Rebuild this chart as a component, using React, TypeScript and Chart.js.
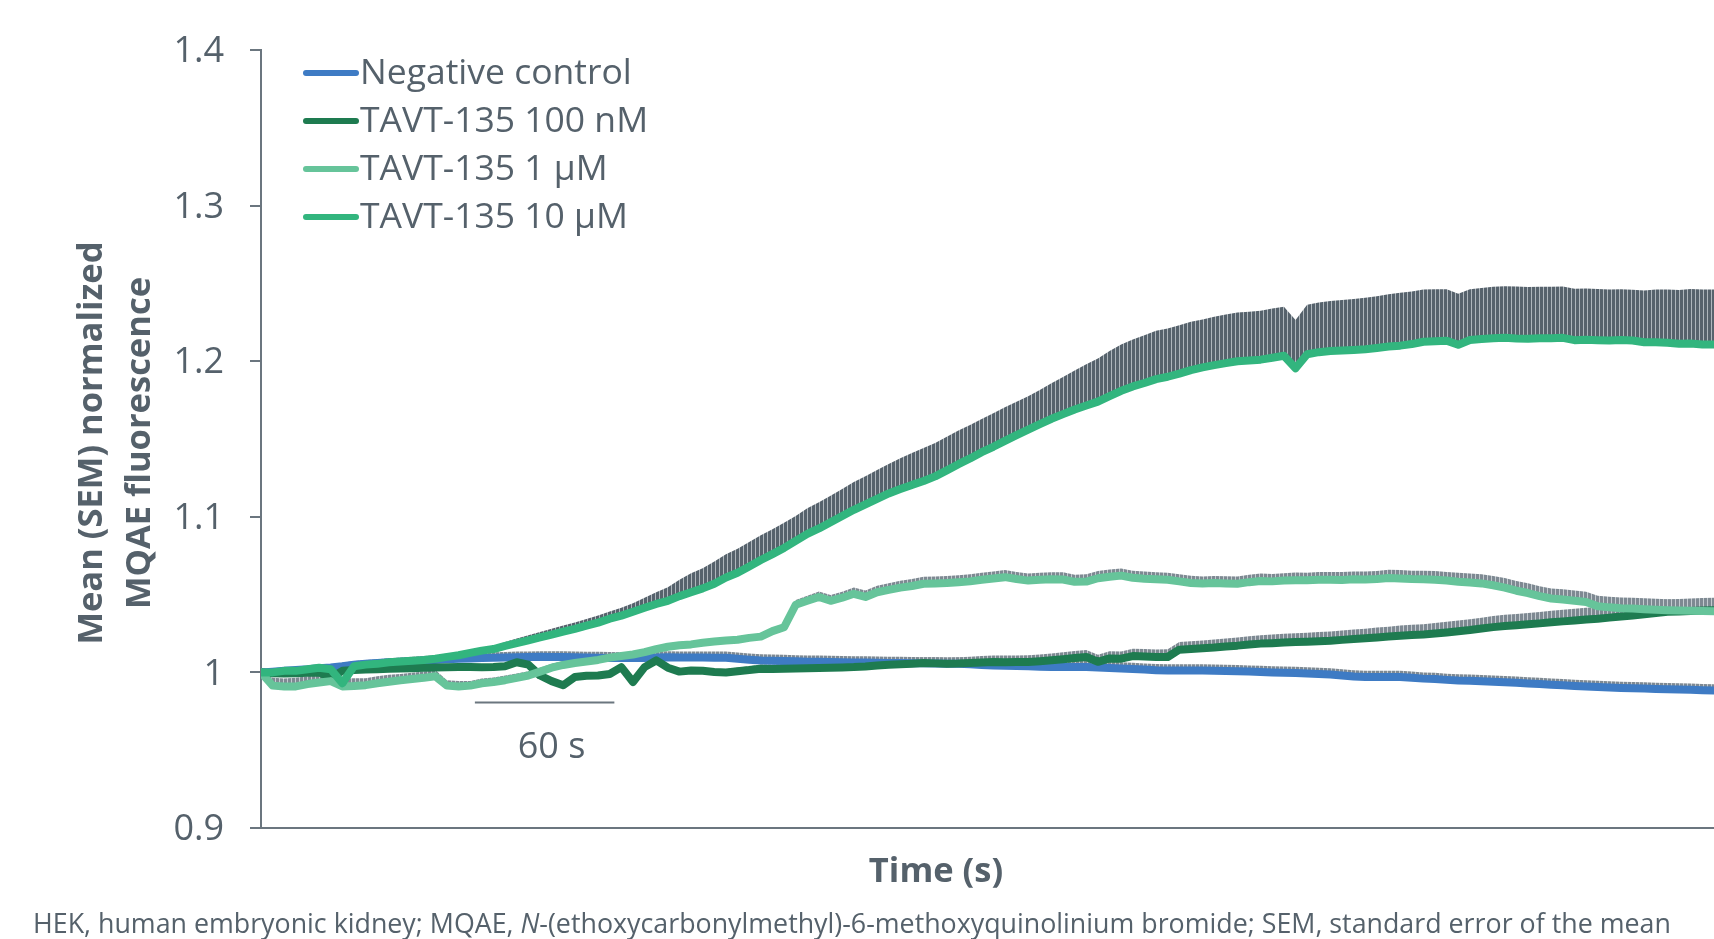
import React, { useEffect, useRef } from "react";
import { Chart, registerables } from "chart.js";

Chart.register(...registerables);

// ---------- data ----------
const TIME_S = [
  0, 5, 10, 15, 20, 25, 30, 35, 40, 45,
  50, 55, 60, 65, 70, 75, 80, 85, 90, 95,
  100, 105, 110, 115, 120, 125, 130, 135, 140, 145,
  150, 155, 160, 165, 170, 175, 180, 185, 190, 195,
  200, 205, 210, 215, 220, 225, 230, 235, 240, 245,
  250, 255, 260, 265, 270, 275, 280, 285, 290, 295,
  300, 305, 310, 315, 320, 325, 330, 335, 340, 345,
  350, 355, 360, 365, 370, 375, 380, 385, 390, 395,
  400, 405, 410, 415, 420, 425, 430, 435, 440, 445,
  450, 455, 460, 465, 470, 475, 480, 485, 490, 495,
  500, 505, 510, 515, 520, 525, 530, 535, 540, 545,
  550, 555, 560, 565, 570, 575, 580, 585, 590, 595,
  600, 605, 610, 615, 620, 625,
];

const NEG_CONTROL = [
  1.000, 1.0005, 1.001, 1.0015, 1.002, 1.0027, 1.0032, 1.004, 1.005, 1.0056,
  1.006, 1.0065, 1.0069, 1.0072, 1.0076, 1.008, 1.0084, 1.0088, 1.009, 1.0092,
  1.0094, 1.0096, 1.0098, 1.0099, 1.010, 1.0099, 1.0099, 1.0097, 1.0095, 1.0094,
  1.0093, 1.0092, 1.0092, 1.0093, 1.0095, 1.0097, 1.0096, 1.0095, 1.0095, 1.0094,
  1.0094, 1.0088, 1.0082, 1.0077, 1.0075, 1.0073, 1.0071, 1.0069, 1.0068, 1.0067,
  1.0065, 1.0064, 1.0063, 1.0062, 1.006, 1.006, 1.0059, 1.0058, 1.0057, 1.0056,
  1.0056, 1.0052, 1.0048, 1.0045, 1.0043, 1.0041, 1.0039, 1.0037, 1.0035, 1.0034,
  1.0034, 1.0034, 1.0032, 1.0028, 1.0025, 1.0022, 1.0018, 1.0014, 1.0013, 1.0013,
  1.0013, 1.0013, 1.0011, 1.0009, 1.0007, 1.0005, 1.0002, 1.000, 0.9998, 0.9996,
  0.9993, 0.999, 0.9986, 0.998, 0.9974, 0.997, 0.997, 0.997, 0.997, 0.9965,
  0.996, 0.9957, 0.9952, 0.9948, 0.9946, 0.9943, 0.994, 0.9937, 0.9933, 0.9929,
  0.9925, 0.9921, 0.9917, 0.9913, 0.9909, 0.9906, 0.9903, 0.99, 0.9898, 0.9896,
  0.9894, 0.9892, 0.989, 0.9888, 0.9886, 0.9884,
];
const NEG_CONTROL_SEM = [
  0.0015, 0.0016, 0.0017, 0.0018, 0.0019, 0.002, 0.0021, 0.0022, 0.0023, 0.0024,
  0.0025, 0.0026, 0.0027, 0.0028, 0.0029, 0.003, 0.0031, 0.0032, 0.0033, 0.0034,
  0.0035, 0.0035, 0.0036, 0.0036, 0.0036, 0.0037, 0.0037, 0.0037, 0.0038, 0.0038,
  0.0038, 0.0038, 0.0039, 0.0039, 0.0039, 0.0039, 0.0039, 0.004, 0.004, 0.004,
  0.004, 0.004, 0.004, 0.004, 0.004, 0.004, 0.004, 0.004, 0.004, 0.004,
  0.004, 0.004, 0.004, 0.004, 0.004, 0.004, 0.004, 0.004, 0.004, 0.004,
  0.004, 0.004, 0.004, 0.004, 0.004, 0.004, 0.004, 0.004, 0.004, 0.004,
  0.004, 0.004, 0.004, 0.004, 0.004, 0.004, 0.004, 0.004, 0.004, 0.004,
  0.004, 0.004, 0.004, 0.004, 0.004, 0.004, 0.004, 0.004, 0.004, 0.004,
  0.004, 0.004, 0.004, 0.004, 0.004, 0.004, 0.004, 0.004, 0.004, 0.004,
  0.004, 0.004, 0.004, 0.004, 0.004, 0.004, 0.004, 0.004, 0.004, 0.004,
  0.004, 0.004, 0.004, 0.004, 0.004, 0.004, 0.004, 0.004, 0.004, 0.004,
  0.004, 0.004, 0.004, 0.004, 0.004, 0.004,
];

const TAVT_100NM = [
  1.000, 0.9995, 0.9993, 0.9994, 0.9997, 1.000, 0.9965, 1.001, 1.0015, 1.0018,
  1.002, 1.0023, 1.0025, 1.0027, 1.003, 1.0031, 1.0033, 1.0034, 1.0034, 1.0033,
  1.0034, 1.004, 1.0065, 1.005, 0.998, 0.9944, 0.9918, 0.997, 0.9978, 0.998,
  0.999, 1.0034, 0.9938, 1.0034, 1.0077, 1.003, 1.0005, 1.0012, 1.001, 1.0003,
  1.000, 1.0008, 1.0015, 1.0024, 1.0022, 1.0024, 1.0025, 1.0027, 1.0029, 1.003,
  1.0032, 1.0034, 1.0038, 1.0044, 1.0049, 1.0052, 1.0056, 1.006, 1.0058, 1.0056,
  1.0057, 1.006, 1.0064, 1.0067, 1.0066, 1.0067, 1.0067, 1.0072, 1.0078, 1.0085,
  1.0092, 1.0099, 1.0068, 1.009, 1.0088, 1.0105, 1.0102, 1.0099, 1.0099, 1.0146,
  1.015, 1.0155, 1.016, 1.0167, 1.0172, 1.0179, 1.0185, 1.0188, 1.0192, 1.0195,
  1.0197, 1.020, 1.0203, 1.0209, 1.0214, 1.0219, 1.0225, 1.023, 1.0236, 1.0241,
  1.0244, 1.025, 1.0257, 1.0265, 1.0272, 1.0282, 1.0291, 1.0298, 1.0303, 1.0309,
  1.0315, 1.0322, 1.0328, 1.0334, 1.034, 1.0345, 1.0352, 1.0359, 1.0366, 1.0374,
  1.0381, 1.0389, 1.0392, 1.0395, 1.0398, 1.04,
];
const TAVT_100NM_SEM = [
  0.001, 0.001, 0.001, 0.001, 0.001, 0.001, 0.001, 0.001, 0.001, 0.001,
  0.0015, 0.0015, 0.0015, 0.0015, 0.0015, 0.0015, 0.0015, 0.0015, 0.0015, 0.0015,
  0.002, 0.002, 0.002, 0.002, 0.002, 0.002, 0.002, 0.002, 0.002, 0.002,
  0.002, 0.002, 0.002, 0.002, 0.002, 0.002, 0.002, 0.002, 0.002, 0.002,
  0.0022, 0.0023, 0.0025, 0.0026, 0.0028, 0.003, 0.0031, 0.0032, 0.0033, 0.0034,
  0.0035, 0.0035, 0.0036, 0.0036, 0.0037, 0.0037, 0.0038, 0.0038, 0.0039, 0.0039,
  0.004, 0.004, 0.0041, 0.0041, 0.0042, 0.0042, 0.0043, 0.0043, 0.0044, 0.0044,
  0.0045, 0.0045, 0.0046, 0.0046, 0.0047, 0.0047, 0.0048, 0.0048, 0.0049, 0.0049,
  0.005, 0.005, 0.0051, 0.0051, 0.0052, 0.0053, 0.0054, 0.0055, 0.0056, 0.0057,
  0.0058, 0.0059, 0.006, 0.006, 0.0061, 0.0062, 0.0063, 0.0064, 0.0065, 0.0066,
  0.0066, 0.0067, 0.0068, 0.0069, 0.007, 0.007, 0.0071, 0.0072, 0.0072, 0.0073,
  0.0073, 0.0074, 0.0074, 0.0075, 0.0075, 0.0076, 0.0076, 0.0077, 0.0077, 0.0078,
  0.0078, 0.0079, 0.0079, 0.008, 0.008, 0.008,
];

const TAVT_1UM = [
  1.000, 0.9915, 0.991, 0.991, 0.9925, 0.9935, 0.9944, 0.991, 0.9912, 0.9918,
  0.993, 0.994, 0.995, 0.9958, 0.9965, 0.9975, 0.9915, 0.991, 0.9915, 0.993,
  0.9938, 0.995, 0.9965, 0.998, 1.0005, 1.003, 1.0048, 1.006, 1.007, 1.008,
  1.0095, 1.0105, 1.0115, 1.013, 1.015, 1.0165, 1.0175, 1.018, 1.019, 1.0198,
  1.0205, 1.021, 1.0222, 1.023, 1.0265, 1.029, 1.0435, 1.046, 1.0485, 1.046,
  1.048, 1.0505, 1.0485, 1.0515, 1.053, 1.0545, 1.0555, 1.057, 1.0572, 1.0575,
  1.058, 1.0585, 1.0595, 1.0604, 1.0612, 1.060, 1.059, 1.0595, 1.0598, 1.0597,
  1.0582, 1.0584, 1.0605, 1.0615, 1.0622, 1.0608, 1.0602, 1.0598, 1.0595, 1.0585,
  1.0575, 1.0571, 1.0574, 1.0572, 1.057, 1.058, 1.0588, 1.0585, 1.059, 1.0593,
  1.0592, 1.0595, 1.0596, 1.0594, 1.0598, 1.0597, 1.060, 1.0606, 1.0604, 1.060,
  1.0598, 1.0595, 1.059, 1.0583, 1.0578, 1.0572, 1.056, 1.0545, 1.0525, 1.051,
  1.049, 1.0475, 1.0468, 1.046, 1.0452, 1.0425, 1.0418, 1.0413, 1.041, 1.0406,
  1.0403, 1.04, 1.0398, 1.0396, 1.0394, 1.0393,
];
const TAVT_1UM_SEM = [
  0.002, 0.005, 0.005, 0.0055, 0.005, 0.005, 0.0045, 0.005, 0.005, 0.0045,
  0.0045, 0.0045, 0.004, 0.004, 0.004, 0.004, 0.0035, 0.0035, 0.003, 0.003,
  0.003, 0.003, 0.0028, 0.0028, 0.0025, 0.0025, 0.0025, 0.0022, 0.0022, 0.002,
  0.002, 0.002, 0.002, 0.002, 0.002, 0.002, 0.002, 0.002, 0.002, 0.002,
  0.002, 0.002, 0.002, 0.002, 0.002, 0.0025, 0.003, 0.0033, 0.0035, 0.0037,
  0.0039, 0.004, 0.0041, 0.0042, 0.0043, 0.0044, 0.0045, 0.0045, 0.0045, 0.0045,
  0.0045, 0.0045, 0.0045, 0.0045, 0.0046, 0.0046, 0.0046, 0.0046, 0.0046, 0.0046,
  0.0046, 0.0046, 0.0046, 0.0046, 0.0046, 0.0046, 0.0046, 0.0046, 0.0046, 0.0046,
  0.0046, 0.0046, 0.0046, 0.0046, 0.0046, 0.0047, 0.0047, 0.0048, 0.0048, 0.0049,
  0.0049, 0.005, 0.005, 0.0051, 0.0051, 0.0052, 0.0052, 0.0053, 0.0054, 0.0054,
  0.0055, 0.0056, 0.0056, 0.0057, 0.0058, 0.0059, 0.006, 0.0061, 0.0062, 0.0063,
  0.0064, 0.0065, 0.0066, 0.0066, 0.0067, 0.0068, 0.0068, 0.0069, 0.0069, 0.007,
  0.007, 0.007, 0.0071, 0.0071, 0.0071, 0.0071,
];

const TAVT_10UM = [
  1.000, 1.000, 1.001, 1.001, 1.002, 1.003, 1.002, 0.993, 1.004, 1.005,
  1.0055, 1.0065, 1.007, 1.0075, 1.008, 1.0088, 1.010, 1.011, 1.0125, 1.014,
  1.015, 1.017, 1.0188, 1.0206, 1.0225, 1.0243, 1.0262, 1.028, 1.030, 1.032,
  1.0345, 1.0365, 1.039, 1.0415, 1.044, 1.046, 1.049, 1.0515, 1.054, 1.057,
  1.061, 1.064, 1.068, 1.0722, 1.076, 1.080, 1.0845, 1.089, 1.0925, 1.0965,
  1.1005, 1.1045, 1.108, 1.1115, 1.115, 1.1178, 1.1205, 1.123, 1.126, 1.1298,
  1.1338, 1.1375, 1.1415, 1.145, 1.1488, 1.1525, 1.156, 1.1595, 1.163, 1.166,
  1.169, 1.1715, 1.174, 1.1775, 1.181, 1.1838, 1.186, 1.1885, 1.190, 1.192,
  1.1943, 1.196, 1.1975, 1.1988, 1.200, 1.2005, 1.201, 1.2022, 1.2035, 1.1955,
  1.2045, 1.2058, 1.2065, 1.2068, 1.2072, 1.2077, 1.2085, 1.2094, 1.210, 1.211,
  1.2125, 1.2128, 1.2132, 1.2105, 1.2136, 1.2142, 1.2148, 1.215, 1.2146, 1.2144,
  1.2147, 1.2148, 1.215, 1.2135, 1.2138, 1.2135, 1.2133, 1.2136, 1.2133, 1.2122,
  1.2122, 1.2118, 1.2112, 1.2114, 1.2108, 1.2107,
];
const TAVT_10UM_SEM = [
  0.003, 0.001, 0.001, 0.001, 0.001, 0.001, 0.001, 0.001, 0.001, 0.0012,
  0.0012, 0.0012, 0.0012, 0.0015, 0.0015, 0.0015, 0.0015, 0.0018, 0.0018, 0.0018,
  0.002, 0.0025, 0.003, 0.0033, 0.0035, 0.0038, 0.004, 0.0041, 0.0043, 0.0045,
  0.0047, 0.005, 0.0055, 0.0065, 0.0075, 0.0088, 0.0105, 0.0122, 0.013, 0.0142,
  0.015, 0.0155, 0.0158, 0.016, 0.016, 0.0161, 0.016, 0.0165, 0.0168, 0.017,
  0.0173, 0.0178, 0.018, 0.0185, 0.019, 0.0198, 0.0205, 0.0212, 0.0215, 0.0216,
  0.0216, 0.0215, 0.0214, 0.0215, 0.0216, 0.0214, 0.0214, 0.022, 0.0228, 0.0238,
  0.025, 0.0265, 0.0278, 0.029, 0.0298, 0.0302, 0.0306, 0.031, 0.031, 0.0311,
  0.031, 0.0308, 0.031, 0.0312, 0.0313, 0.0312, 0.0314, 0.0316, 0.0315, 0.031,
  0.0318, 0.032, 0.0322, 0.0325, 0.0328, 0.033, 0.0333, 0.0336, 0.034, 0.0338,
  0.0336, 0.0334, 0.033, 0.0328, 0.0326, 0.0328, 0.033, 0.0332, 0.0334, 0.0333,
  0.0332, 0.0331, 0.033, 0.0331, 0.033, 0.0329, 0.0328, 0.0327, 0.0326, 0.0332,
  0.0338, 0.0342, 0.0346, 0.035, 0.0352, 0.0354,
];

const SERIES_LABELS = ["Negative control", "TAVT-135 100 nM", "TAVT-135 1 µM", "TAVT-135 10 µM"];
const SERIES_COLORS = ["#3E7BC4", "#1E7B50", "#66C49A", "#32B57E"];
const Y_TICKS = [0.9, 1.0, 1.1, 1.2, 1.3, 1.4];
const X_RANGE_S = [0, 625];
const SCALE_BAR_S = [92, 152];
const SCALE_BAR_LABEL = "60 s";
const Y_TITLE = ["Mean (SEM) normalized", "MQAE fluorescence"];
const X_TITLE = "Time (s)";
const FOOTNOTE = [
  { text: "HEK, human embryonic kidney; MQAE, ", italic: false },
  { text: "N", italic: true },
  { text: "-(ethoxycarbonylmethyl)-6-methoxyquinolinium bromide; SEM, standard error of the mean", italic: false },
];

const TEXT_COLOR = "#55616B";
const AXIS_COLOR = "#6B767F";
const FONT = "'Open Sans', 'Noto Sans', sans-serif";
const LINE_WIDTH = 8;

function stripes(dark: string, light: string): CanvasPattern | string {
  const c = document.createElement("canvas");
  c.width = 4;
  c.height = 4;
  const g = c.getContext("2d");
  if (!g) return dark;
  g.fillStyle = light;
  g.fillRect(0, 0, 4, 4);
  g.fillStyle = dark;
  g.fillRect(0, 0, 3, 4);
  return g.createPattern(c, "repeat") || dark;
}

export default function App() {
  const canvasRef = useRef<HTMLCanvasElement | null>(null);

  useEffect(() => {
    if (!canvasRef.current) return;
    const means = [NEG_CONTROL, TAVT_100NM, TAVT_1UM, TAVT_10UM];
    const sems = [NEG_CONTROL_SEM, TAVT_100NM_SEM, TAVT_1UM_SEM, TAVT_10UM_SEM];
    const lightBars = stripes("#7E8992", "#C3CACF");
    const darkBars = stripes("#56626C", "#AEB6BC");

    const datasets: any[] = [];
    means.forEach((m, s) => {
      const order = 8 - s * 2;
      datasets.push({
        label: SERIES_LABELS[s],
        data: TIME_S.map((t, i) => ({ x: t, y: m[i] })),
        borderColor: SERIES_COLORS[s],
        backgroundColor: SERIES_COLORS[s],
        borderWidth: LINE_WIDTH,
        pointRadius: 0,
        tension: 0,
        fill: false,
        order,
        borderJoinStyle: "round",
        borderCapStyle: "round",
      });
      datasets.push({
        label: SERIES_LABELS[s] + " SEM",
        data: TIME_S.map((t, i) => ({ x: t, y: m[i] + sems[s][i] })),
        borderWidth: 1,
        borderColor: "rgba(0,0,0,0)",
        backgroundColor: s === 3 ? darkBars : lightBars,
        pointRadius: 0,
        tension: 0,
        fill: "-1",
        order: order + 1,
      });
    });

    const overlay = {
      id: "overlay",
      afterDraw(chart: any) {
        const ctx = chart.ctx as CanvasRenderingContext2D;
        const xs = chart.scales.x;
        const ys = chart.scales.y;
        ctx.save();
        // legend
        const legendY = [73, 121, 169, 217];
        SERIES_LABELS.forEach((lab, i) => {
          ctx.strokeStyle = SERIES_COLORS[i];
          ctx.lineWidth = 6;
          ctx.lineCap = "round";
          ctx.beginPath();
          ctx.moveTo(306, legendY[i]);
          ctx.lineTo(356, legendY[i]);
          ctx.stroke();
          ctx.fillStyle = TEXT_COLOR;
          ctx.font = `35.5px ${FONT}`;
          ctx.textAlign = "left";
          ctx.textBaseline = "middle";
          ctx.fillText(lab, 360, legendY[i] + 1);
        });
        // scale bar
        const y0 = ys.getPixelForValue(0.9807);
        ctx.strokeStyle = AXIS_COLOR;
        ctx.lineWidth = 2;
        ctx.lineCap = "butt";
        ctx.beginPath();
        ctx.moveTo(xs.getPixelForValue(SCALE_BAR_S[0]), y0);
        ctx.lineTo(xs.getPixelForValue(SCALE_BAR_S[1]), y0);
        ctx.stroke();
        ctx.fillStyle = TEXT_COLOR;
        ctx.font = `36px ${FONT}`;
        ctx.textAlign = "center";
        ctx.textBaseline = "middle";
        ctx.fillText(SCALE_BAR_LABEL, xs.getPixelForValue(125), ys.getPixelForValue(0.9514));
        // y title
        ctx.font = `bold 34.5px ${FONT}`;
        [92, 140].forEach((x, i) => {
          ctx.save();
          ctx.translate(x, 443);
          ctx.rotate(-Math.PI / 2);
          ctx.textAlign = "center";
          ctx.textBaseline = "middle";
          ctx.fillText(Y_TITLE[i], 0, 0);
          ctx.restore();
        });
        // x title
        ctx.textAlign = "center";
        ctx.textBaseline = "middle";
        ctx.fillText(X_TITLE, 936, 872);
        // footnote
        let fx = 33;
        ctx.textAlign = "left";
        FOOTNOTE.forEach((seg) => {
          ctx.font = `${seg.italic ? "italic " : ""}26.8px ${FONT}`;
          ctx.fillText(seg.text, fx, 925);
          fx += ctx.measureText(seg.text).width;
        });
        ctx.restore();
      },
    };

    const chart = new Chart(canvasRef.current, {
      type: "line",
      data: { datasets },
      plugins: [overlay],
      options: {
        animation: false,
        responsive: true,
        maintainAspectRatio: false,
        devicePixelRatio: 1,
        layout: { padding: { left: 0, right: 0, top: 50, bottom: 111 } },
        elements: { line: { borderWidth: LINE_WIDTH } },
        plugins: {
          legend: { display: false },
          tooltip: { enabled: false },
          filler: { drawTime: "beforeDatasetsDraw" },
        } as any,
        scales: {
          x: {
            type: "linear",
            min: X_RANGE_S[0],
            max: X_RANGE_S[1],
            ticks: { display: false },
            grid: { display: false, drawTicks: false },
            border: { display: true, color: AXIS_COLOR, width: 2 },
            afterFit: (scale: any) => {
              scale.height = 0;
            },
          },
          y: {
            type: "linear",
            min: 0.9,
            max: 1.4,
            afterBuildTicks: (scale: any) => {
              scale.ticks = Y_TICKS.map((v) => ({ value: v }));
            },
            ticks: {
              color: TEXT_COLOR,
              font: { family: FONT, size: 36 },
              padding: 26,
              labelOffset: 2,
              callback: (v: any) => String(Number(Number(v).toFixed(1))),
            },
            grid: {
              display: true,
              drawOnChartArea: false,
              drawTicks: true,
              tickLength: 11,
              color: AXIS_COLOR,
              lineWidth: 2,
            },
            border: { display: true, color: AXIS_COLOR, width: 2 },
            afterFit: (scale: any) => {
              scale.width = 261;
            },
          },
        },
      },
    });
    return () => chart.destroy();
  }, []);

  return (
    <div style={{ position: "absolute", left: 0, top: 0, width: 1714, height: 939, background: "#fff" }}>
      <canvas ref={canvasRef} />
    </div>
  );
}
